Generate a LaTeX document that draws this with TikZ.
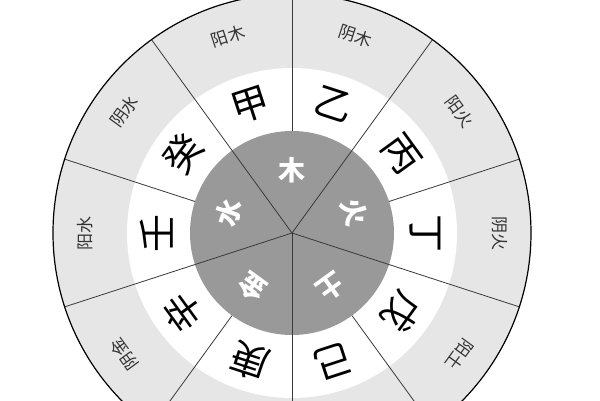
\documentclass[tikz,border=0pt]{standalone}
\usepackage{fontspec}
\usepackage{xcolor}
\newfontfamily\cjk{Noto Sans CJK SC}
\definecolor{bandgray}{HTML}{E6E6E6}
\definecolor{coregray}{HTML}{999999}
\definecolor{linegray}{HTML}{3A3A3A}
\tikzset{
  divider/.style={draw=linegray,line width=0.8pt},
  stem/.style={font=\cjk\fontsize{38}{38}\selectfont,text=black,inner sep=0pt},
  element/.style={font=\cjk\bfseries\fontsize{27}{27}\selectfont,text=white,inner sep=0pt},
  yinyang/.style={font=\cjk\fontsize{17}{17}\selectfont,text=black!80,inner sep=0pt}
}
\begin{document}
\begin{tikzpicture}[x=1pt,y=1pt]
      \useasboundingbox (-292,-167) rectangle (308,233);
      \clip (-292,-167) rectangle (308,233);
      % rings
      \fill[bandgray] (0,0) circle (239);
      \fill[white] (0,0) circle (165);
      \fill[coregray] (0,0) circle (102);
      % sector lines
      \foreach \a in {54,126,198,270,342}
            \draw[divider] (0,0) -- (\a:239);
      \foreach \a in {18,90,162,234,306}
            \draw[divider] (\a:102) -- (\a:239);
      \draw[line width=1.2pt] (0,0) circle (239);
      % five elements
      \node[element,rotate=0] (mu) at (90:63) {木};
      \node[element,rotate=-72] (huo) at (18:66) {火};
      \node[element,rotate=-144] (tu) at (-54:67) {土};
      \node[element,rotate=144] (jin) at (234:67) {金};
      \node[element,rotate=72] (shui) at (162:66) {水};
      % ten stems
      \node[stem,rotate=18] (jia) at (108:135) {甲};
      \node[stem,rotate=-18] (yi) at (72:135) {乙};
      \node[stem,rotate=-54] (bing) at (36:135) {丙};
      \node[stem,rotate=-90] (ding) at (0:133) {丁};
      \node[stem,rotate=-126] (wu) at (-36:135) {戊};
      \node[stem,rotate=-162] (ji) at (-72:135) {己};
      \node[stem,rotate=162] (geng) at (252:135) {庚};
      \node[stem,rotate=126] (xin) at (216:135) {辛};
      \node[stem,rotate=90] (ren) at (180:135) {壬};
      \node[stem,rotate=54] (gui) at (144:135) {癸};
      % yin and yang
      \node[yinyang,rotate=18] (yangmu) at (108:207) {阳木};
      \node[yinyang,rotate=-18] (yinmu) at (72:207) {阴木};
      \node[yinyang,rotate=-54] (yanghuo) at (36:207) {阳火};
      \node[yinyang,rotate=-90] (yinhuo) at (0:208) {阴火};
      \node[yinyang,rotate=-126] (yangtu) at (-36:207) {阳土};
      \node[yinyang,rotate=-162] (yintu) at (-72:207) {阴土};
      \node[yinyang,rotate=162] (yangjin) at (252:207) {阳金};
      \node[yinyang,rotate=126] (yinjin) at (216:207) {阴金};
      \node[yinyang,rotate=90] (yangshui) at (180:207) {阳水};
      \node[yinyang,rotate=54] (yinshui) at (144:207) {阴水};
\end{tikzpicture}
\end{document}
